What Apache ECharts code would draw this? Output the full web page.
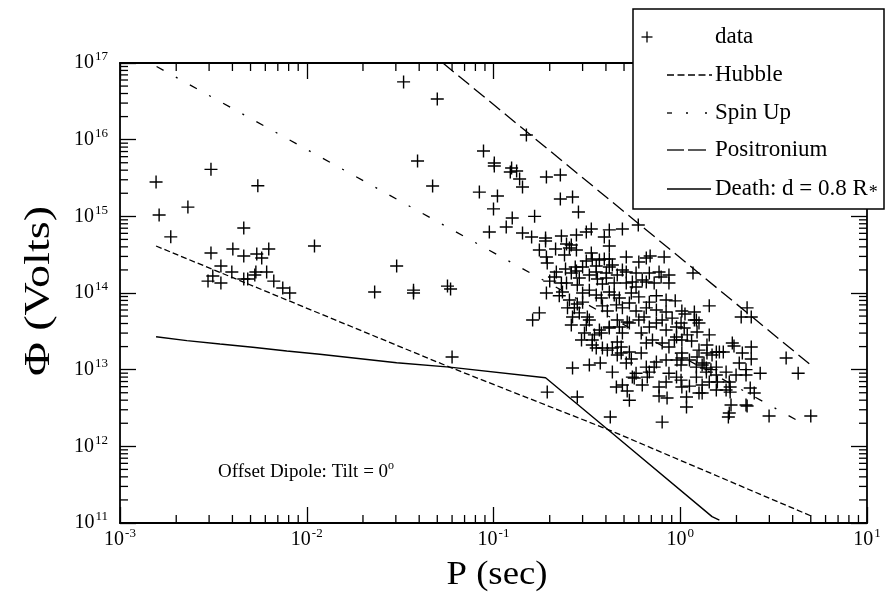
<!DOCTYPE html>
<html><head><meta charset="utf-8">
<script src="https://cdn.jsdelivr.net/npm/echarts@6/dist/echarts.min.js"></script>
<style>html,body{margin:0;padding:0;background:#fff}#c{width:886px;height:601px}</style>
</head><body><div id="c"></div>
<script>
// ---- data ----
const pulsarData = [
[1.56e-3,2.8e15],[1.62e-3,1.04e15],[2.31e-3,1.32e15],[1.87e-3,5.4e14],[3.07e-3,4.1e15],[5.47e-3,2.5e15],[4.6e-3,7.05e14],[3.07e-3,3.33e14],[4.02e-3,3.75e14],[4.6e-3,3.04e14],[5.4e-3,3.23e14],[5.74e-3,2.86e14],[6.26e-3,3.75e14],[3.47e-3,2.25e14],[3.14e-3,1.67e14],[2.96e-3,1.43e14],[3.47e-3,1.35e14],[3.97e-3,1.88e14],[4.6e-3,1.52e14],[4.83e-3,1.52e14],[5.27e-3,1.72e14],[5.34e-3,1.88e14],[6.1e-3,1.88e14],[6.66e-3,1.43e14],[7.44e-3,1.16e14],[8.11e-3,1.0e14],[1.1e-2,4.1e14],[2.31e-2,1.03e14],[3.03e-2,2.25e14],[3.73e-2,1.09e14],[3.73e-2,1.0e14],[5.67e-2,1.23e14],[5.89e-2,1.13e14],[6.0e-2,1.46e13],
[3.3e-2,5.67e16],[5.0e-2,3.39e16],[0.15,1.15e16],[8.84e-2,7.1e15],[3.92e-2,5.27e15],[0.101,4.96e15],[0.101,4.53e15],[0.125,4.27e15],[0.133,3.9e15],[0.123,3.78e15],[0.138,3.07e15],[0.143,2.41e15],[0.192,3.26e15],[0.228,3.46e15],[4.72e-2,2.49e15],[8.4e-2,2.07e15],[0.105,1.84e15],[0.228,1.68e15],[0.265,1.79e15],[0.285,1.14e15],[0.1,1.25e15],[0.166,1.0e15],[0.126,9.5e14],[0.117,7.27e14],[9.5e-2,6.26e14],[0.143,6.07e14],[0.16,5.38e14],[0.19,5.22e14],[0.231,5.55e14],[0.278,5.72e14],[0.314,6.26e14],[0.334,6.85e14],[0.392,5.38e14],[0.417,6.65e14],[0.49,6.85e14],[0.596,7.72e14],[0.417,4.1e14],[1.17,1.82e14],[0.19,4.77e14],
[0.176,3.64e14],[0.192,2.95e14],[0.194,2.46e14],[0.215,3.75e14],[0.24,3.13e14],[0.246,4.36e14],[0.261,4.23e14],[0.278,3.64e14],[0.334,3.33e14],[0.314,2.61e14],[0.338,2.78e14],[0.369,2.7e14],[0.392,2.78e14],[0.417,2.78e14],[0.433,2.32e14],[0.514,2.95e14],[0.6,2.54e14],[0.658,2.86e14],[0.69,3.04e14],[0.82,2.95e14],[0.255,3.86e14],
[0.2,1.43e14],[0.212,1.62e14],[0.217,1.88e14],[0.231,1.35e14],[0.246,1.35e14],[0.243,2.06e14],[0.261,1.82e14],[0.274,2.18e14],[0.278,1.94e14],[0.288,1.57e14],[0.281,1.27e14],[0.3,2.18e14],[0.326,1.72e14],[0.355,1.88e14],[0.355,2.25e14],[0.36,1.52e14],[0.383,1.31e14],[0.402,1.82e14],[0.417,2.18e14],[0.402,1.57e14],[0.443,1.35e14],[0.46,1.72e14],[0.49,2.0e14],[0.514,1.88e14],[0.514,1.35e14],[0.554,1.39e14],[0.58,1.82e14],[0.58,1.2e14],[0.626,1.48e14],[0.658,1.39e14],[0.683,1.82e14],[0.725,1.35e14],[0.77,1.88e14],[0.79,1.62e14],[0.87,1.72e14],[0.87,1.35e14],
[0.162,4.45e13],[0.176,5.5e13],[0.192,1.0e14],[0.225,9.2e13],[0.234,1.03e14],[0.255,8.1e13],[0.271,6.4e13],[0.281,7.2e13],[0.3,1.0e14],[0.3,7.6e13],[0.318,4.87e13],[0.326,1.09e14],[0.326,4.45e13],[0.355,9.4e13],[0.378,8.6e13],[0.383,6.8e13],[0.407,5.83e13],[0.417,1.03e14],[0.443,9.4e13],[0.455,7.0e13],[0.472,8.6e13],[0.49,6.4e13],[0.534,7.4e13],[0.547,1.0e14],[0.58,5.83e13],[0.6,8.9e13],[0.64,4.87e13],[0.658,6.4e13],[0.683,7.6e13],[0.745,9.2e13],[0.745,6.0e13],[0.8,4.45e13],[0.84,8.1e13],[0.84,5.66e13],[0.905,4.7e13],[0.94,7.9e13],[1.02,5.83e13],[1.06,5.33e13],[1.19,5.66e13],[1.22,4.45e13],[1.26,4.07e13],[1.01,4.07e13],[1.43,6.8e13],[2.28,6.4e13],[2.12,4.87e13],[2.4,4.87e13],[0.249,6.4e13],[0.288,5.5e13],[0.265,4.87e13],[0.46,4.45e13],[0.417,3.6e13],[0.52,4.18e13],
[0.261,3.83e13],[0.314,3.83e13],[0.307,3.01e13],[0.347,2.84e13],[0.378,3.01e13],[0.369,3.29e13],[0.417,3.5e13],[0.472,3.6e13],[0.49,3.01e13],[0.534,4.07e13],[0.6,4.45e13],[0.618,3.01e13],[0.683,3.6e13],[0.745,4.07e13],[0.84,3.29e13],[0.955,3.6e13],[1.05,3.5e13],[1.19,4.45e13],[1.23,3.1e13],[0.296,2.44e13],[0.338,2.44e13],[0.338,2.1e13],[0.355,1.92e13],[0.383,1.92e13],[0.407,1.8e13],[0.433,1.92e13],[0.46,2.3e13],[0.483,1.98e13],[0.483,1.65e13],[0.46,1.55e13],[0.534,1.7e13],[0.547,1.38e13],[0.514,1.22e13],[0.618,1.65e13],[0.658,2.23e13],[0.71,2.44e13],[0.8,2.23e13],[0.87,1.98e13],[0.93,2.44e13],[0.955,2.67e13],[1.09,2.84e13],[1.02,2.44e13],[1.15,2.37e13],[1.43,2.84e13],[1.26,1.8e13],[1.23,1.46e13],[1.39,2.1e13],[1.39,1.65e13],[1.48,1.55e13],[1.56,1.7e13],[1.62,1.7e13],[1.7,1.7e13],[1.9,2.23e13],[1.94,2.04e13],[2.15,1.65e13],[2.4,1.98e13],[2.4,1.38e13],[2.07,1.22e13],[1.02,1.65e13],[0.96,1.34e13],[1.01,1.15e13],[0.84,1.34e13],[0.745,1.26e13],[0.725,1.08e13],[1.34,1.22e13],[1.38,1.05e13],[1.56,1.08e13],[3.69,1.42e13],
[0.265,1.05e13],[0.326,1.15e13],[0.373,1.22e13],[0.433,9.3e12],[0.58,9.0e12],[0.567,7.8e12],[0.658,1.08e13],[0.683,9.3e12],[0.666,8.0e12],[0.554,8.0e12],[0.49,6.3e12],[0.455,5.95e12],[0.52,5.27e12],[0.534,4.0e12],[0.626,6.3e12],[0.77,5.95e12],[0.84,6.9e12],[0.77,4.53e12],[0.85,4.27e12],[0.87,9.0e12],[0.955,8.0e12],[1.01,7.3e12],[1.02,5.95e12],[1.12,6.1e12],[1.08,4.4e12],[1.08,3.26e12],[0.8,2.07e12],[0.422,2.41e12],[0.281,4.4e12],[0.194,5.1e12],[1.02,1.42e13],[1.12,1.34e13],[1.22,1.08e13],[1.31,1.15e13],[1.38,9.3e12],[1.56,8.5e12],[1.76,9.3e12],[1.99,8.5e12],[2.25,8.5e12],[1.31,4.96e12],[1.56,5.43e12],[1.76,5.43e12],[1.87,3.46e12],[1.83,2.72e12],[2.25,3.46e12],[1.81,2.41e12],[2.25,1.0e13],[2.68,9.0e12],[2.49,4.96e12],[2.37,5.77e12],[1.85,5.1e12],[1.85,5.95e12],[1.83,6.9e12],[1.46,1.0e13],[1.43,6.9e12],[1.26,4.96e12],[1.22,8.0e12],[1.58,6.9e12],[1.31,6.3e12],[4.28,9.0e12],[5.0,2.49e12],[2.99,2.49e12],[2.28,3.36e12]
];
const hubbleLine = [[1.56e-3,4.1e14],[0.0582,1.08e13],[0.417,1.63e12],[5.0,1.24e11]];
const spinUpLine = [[1.57e-3,9.0e16],[4.2,2.2e12]];
const positroniumLine = [[0.0536,1.0e17],[5.0,1.15e13]];
const deathLine = [[1.56e-3,2.69e13],[2.28e-3,2.39e13],[3.43e-3,2.16e13],[5.14e-3,1.96e13],[7.82e-3,1.75e13],[0.01175,1.59e13],[0.0303,1.23e13],[0.0582,1.08e13],[0.19,7.86e12],[0.4325,1.48e12],[1.48,1.21e11],[1.62,1.09e11]];
const xRange = [1e-3, 10];
const yRange = [1e11, 1e17];
const xDecades = [1e-3, 1e-2, 1e-1, 1];
const yDecades = [1e11, 1e12, 1e13, 1e14, 1e15, 1e16];
const minorMult = [2,3,4,5,6,7,8,9];
const legendNames = ['data','Hubble','Spin Up','Positronium','Death: d = 0.8 R{sub|*}'];

// ---- chart ----
const F = '"Liberation Serif","Times New Roman",serif';
const xMinor = [], yMinor = [];
xDecades.forEach(d => minorMult.forEach(m => xMinor.push([d*m, yRange[0]])));
yDecades.forEach(d => minorMult.forEach(m => yMinor.push([xRange[0], d*m])));

const supFmt = v => '{b|10}{e|' + Math.round(Math.log10(v)) + '}';
const rich = {
  b: {fontFamily: F, fontSize: 20, color: '#000'},
  e: {fontFamily: F, fontSize: 13, color: '#000', padding: [0, 0, 12, 1]}
};
const axisCommon = {
  type: 'log', logBase: 10,
  axisLine: {show: true, onZero: false, lineStyle: {color: '#000', width: 1.8}},
  axisTick: {show: true, inside: true, length: 16, lineStyle: {color: '#000', width: 1.3}},
  splitLine: {show: false}, minorTick: {show: false}, minorSplitLine: {show: false}
};
const plusSym = 'path://M0,5.35H12V6.65H0Z M5.35,0H6.65V12H5.35Z';

function minorX(params, api) {
  const x = api.value(0);
  const b = api.coord([x, yRange[0]]), t = api.coord([x, yRange[1]]);
  const st = {stroke: '#000', lineWidth: 1.3};
  return {type: 'group', children: [
    {type: 'line', shape: {x1: b[0], y1: b[1], x2: b[0], y2: b[1] - 8}, style: st},
    {type: 'line', shape: {x1: t[0], y1: t[1], x2: t[0], y2: t[1] + 8}, style: st}
  ]};
}
function minorY(params, api) {
  const y = api.value(1);
  const l = api.coord([xRange[0], y]), r = api.coord([xRange[1], y]);
  const st = {stroke: '#000', lineWidth: 1.3};
  return {type: 'group', children: [
    {type: 'line', shape: {x1: l[0], y1: l[1], x2: l[0] + 8, y2: l[1]}, style: st},
    {type: 'line', shape: {x1: r[0], y1: r[1], x2: r[0] - 8, y2: r[1]}, style: st}
  ]};
}

const L = 633, T = 9, LW = 251, LH = 200;
const lineSt = {stroke: '#000', lineWidth: 1.3};
const rowY = [37, 75, 113, 150, 189];
const textX = 715;
const graphics = [
  {type: 'rect', z: 100, shape: {x: L, y: T, width: LW, height: LH}, style: {fill: '#fff', stroke: '#000', lineWidth: 1.5}},
  {type: 'line', z: 101, shape: {x1: 641.5, y1: rowY[0], x2: 652.5, y2: rowY[0]}, style: lineSt},
  {type: 'line', z: 101, shape: {x1: 647, y1: rowY[0] - 5.5, x2: 647, y2: rowY[0] + 5.5}, style: lineSt},
  {type: 'line', z: 101, shape: {x1: 667, y1: rowY[1], x2: 712, y2: rowY[1]}, style: {stroke: '#000', lineWidth: 1.3, lineDash: [7, 3.5]}},
  {type: 'line', z: 101, shape: {x1: 667, y1: rowY[2], x2: 672, y2: rowY[2]}, style: lineSt},
  {type: 'line', z: 101, shape: {x1: 686, y1: rowY[2], x2: 688, y2: rowY[2]}, style: lineSt},
  {type: 'line', z: 101, shape: {x1: 705, y1: rowY[2], x2: 707, y2: rowY[2]}, style: lineSt},
  {type: 'line', z: 101, shape: {x1: 667, y1: rowY[3], x2: 684, y2: rowY[3]}, style: lineSt},
  {type: 'line', z: 101, shape: {x1: 688, y1: rowY[3], x2: 706, y2: rowY[3]}, style: lineSt},
  {type: 'line', z: 101, shape: {x1: 667, y1: rowY[4], x2: 711, y2: rowY[4]}, style: lineSt},
  {type: 'text', z: 101, x: 497, y: 575, scaleX: 1.08, style: {text: 'P (sec)', fontFamily: F, fontSize: 34, fill: '#000', align: 'center', verticalAlign: 'middle', textAlign: 'center', textVerticalAlign: 'middle'}},
  {type: 'text', z: 101, x: 40, y: 291, rotation: Math.PI / 2, scaleX: 1.32, style: {text: 'Φ (Volts)', fontFamily: F, fontSize: 35, fill: '#000', align: 'center', verticalAlign: 'middle', textAlign: 'center', textVerticalAlign: 'middle'}},
  {type: 'text', z: 101, x: 218, y: 472, style: {text: 'Offset Dipole: Tilt = 0{sup|o}', fontFamily: F, fontSize: 19, fill: '#000', align: 'left', verticalAlign: 'middle', textAlign: 'left', textVerticalAlign: 'middle',
    rich: {sup: {fontFamily: F, fontSize: 12, fill: '#000', padding: [0, 0, 12, 0]}}}}
];
legendNames.forEach((n, i) => graphics.push({type: 'text', z: 101, x: textX, y: rowY[i], style: {text: n, fontFamily: F, fontSize: 23, fill: '#000', align: 'left', verticalAlign: 'middle', textAlign: 'left', textVerticalAlign: 'middle',
  rich: {sub: {fontFamily: F, fontSize: 18, fill: '#000', padding: [9, 0, 0, 1]}}}}));

const chart = echarts.init(document.getElementById('c'), null, {renderer: 'canvas'});
chart.setOption({
  animation: false,
  backgroundColor: '#fff',
  grid: {left: 120, right: 19, top: 63, bottom: 78, containLabel: false},
  xAxis: [
    Object.assign({}, axisCommon, {min: xRange[0], max: xRange[1], splitNumber: 4, position: 'bottom',
      axisLabel: {show: true, formatter: supFmt, margin: 4, rich: rich, showMinLabel: true, showMaxLabel: true}}),
    Object.assign({}, axisCommon, {min: xRange[0], max: xRange[1], splitNumber: 4, position: 'top', axisLabel: {show: false}})
  ],
  yAxis: [
    Object.assign({}, axisCommon, {min: yRange[0], max: yRange[1], splitNumber: 6, position: 'left',
      axisLabel: {show: true, formatter: supFmt, margin: 12, rich: rich, showMinLabel: true, showMaxLabel: true}}),
    Object.assign({}, axisCommon, {min: yRange[0], max: yRange[1], splitNumber: 6, position: 'right', axisLabel: {show: false}})
  ],
  series: [
    {type: 'custom', renderItem: minorX, data: xMinor, clip: false, silent: true, z: 3},
    {type: 'custom', renderItem: minorY, data: yMinor, clip: false, silent: true, z: 3},
    {name: 'Hubble', type: 'line', data: hubbleLine, showSymbol: false, symbol: 'none', lineStyle: {color: '#000', width: 1.3, type: [6, 3]}},
    {name: 'Spin Up', type: 'line', data: spinUpLine, showSymbol: false, symbol: 'none', lineStyle: {color: '#000', width: 1.3, type: [8, 14, 2, 14]}},
    {name: 'Positronium', type: 'line', data: positroniumLine, showSymbol: false, symbol: 'none', lineStyle: {color: '#000', width: 1.3, type: [14, 6]}},
    {name: 'Death', type: 'line', data: deathLine, showSymbol: false, symbol: 'none', lineStyle: {color: '#000', width: 1.4, type: 'solid'}},
    {name: 'data', type: 'scatter', data: pulsarData, symbol: plusSym, symbolSize: 13, itemStyle: {color: '#000', opacity: 1}, z: 4}
  ],
  graphic: graphics
});
</script></body></html>
